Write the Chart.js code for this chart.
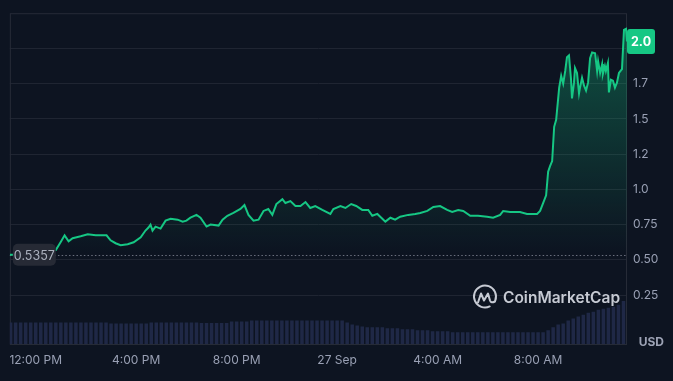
<!DOCTYPE html>
<html>
<head>
<meta charset="utf-8">
<script src="https://cdn.jsdelivr.net/npm/chart.js@4.4.1/dist/chart.umd.min.js"></script>
<style>
  html, body { margin: 0; padding: 0; background: #0d1421; }
</style>
</head>
<body>
<canvas id="priceChart" width="673" height="381"></canvas>
<script>
// hours counted from 26 Sep 00:00 (24 = 27 Sep 00:00)
const priceTimes = [
  10.97, 11.13, 12.80, 12.99, 13.15, 13.31, 13.47, 13.63, 13.79, 14.07,
  14.39, 14.82, 14.98, 15.18, 15.38, 15.66, 15.90, 16.18, 16.37, 16.49,
  16.57, 16.65, 16.77, 16.97, 17.17, 17.37, 17.65, 17.85, 18.00, 18.16,
  18.40, 18.56, 18.80, 18.96, 19.28, 19.44, 19.63, 19.87, 20.15, 20.31,
  20.47, 20.67, 20.87, 21.07, 21.26, 21.42, 21.58, 21.82, 21.94, 22.14,
  22.34, 22.54, 22.74, 22.93, 23.13, 23.41, 23.73, 23.85, 24.13, 24.33,
  24.56, 24.76, 25.00, 25.24, 25.40, 25.60, 25.80, 25.92, 26.12, 26.31,
  26.51, 26.83, 27.11, 27.31, 27.59, 27.83, 28.10, 28.38, 28.58, 28.82,
  29.02, 29.30, 29.61, 29.97, 30.21, 30.49, 30.61, 30.89, 31.28, 31.56,
  31.96, 32.08, 32.20, 32.32, 32.40, 32.48, 32.56, 32.64, 32.72, 32.84,
  32.92, 33.00, 33.08, 33.15, 33.23, 33.31, 33.35, 33.43, 33.47, 33.55,
  33.63, 33.67, 33.75, 33.83, 33.91, 33.99, 34.07, 34.15, 34.27, 34.35,
  34.39, 34.47, 34.55, 34.58, 34.66, 34.70, 34.78, 34.82, 34.90, 34.98,
  35.06, 35.14, 35.22, 35.34, 35.42, 35.50, 35.54
];
const priceValues = [
  0.5357, 0.536, 0.569, 0.625, 0.674, 0.632, 0.653, 0.660, 0.667, 0.681,
  0.674, 0.674, 0.639, 0.618, 0.604, 0.611, 0.625, 0.660, 0.708, 0.729,
  0.750, 0.708, 0.736, 0.722, 0.778, 0.792, 0.785, 0.771, 0.778, 0.799,
  0.819, 0.799, 0.736, 0.750, 0.743, 0.785, 0.813, 0.833, 0.861, 0.889,
  0.819, 0.778, 0.785, 0.847, 0.861, 0.819, 0.896, 0.931, 0.903, 0.917,
  0.882, 0.882, 0.910, 0.868, 0.882, 0.854, 0.826, 0.861, 0.882, 0.868,
  0.896, 0.882, 0.854, 0.854, 0.813, 0.826, 0.792, 0.771, 0.799, 0.785,
  0.806, 0.819, 0.826, 0.833, 0.847, 0.875, 0.882, 0.854, 0.840, 0.854,
  0.847, 0.813, 0.813, 0.806, 0.799, 0.819, 0.847, 0.840, 0.840, 0.826,
  0.826, 0.847, 0.903, 0.958, 1.125, 1.167, 1.201, 1.444, 1.493, 1.722,
  1.806, 1.750, 1.840, 1.938, 1.951, 1.785, 1.646, 1.757, 1.861, 1.826,
  1.681, 1.722, 1.792, 1.736, 1.701, 1.757, 1.931, 1.972, 1.965, 1.840,
  1.910, 1.826, 1.889, 1.819, 1.875, 1.840, 1.896, 1.688, 1.778, 1.771,
  1.722, 1.757, 1.826, 1.854, 2.132, 2.139, 2.05
];
// volume bars, one every 0.2 h from 11:00
const volumeStart = 11.0;
const volumeStep = 0.2;
const volumeValues = [
  22, 22, 22, 22, 22, 22, 22, 22, 22, 22, 22, 22, 22, 22, 22, 22, 22, 22, 22, 22,
  21, 21, 21, 21, 21, 21, 21, 21,
  22, 22, 22, 22, 22, 22, 22, 22, 22, 22,
  21.5, 21.5, 21.5, 21.5, 21.5, 21.5,
  23, 23, 23, 23,
  24, 24, 24, 24, 24, 24, 24, 24, 24, 24, 24, 24, 24, 24, 24, 24, 24, 24, 24,
  22, 20, 19, 18, 17, 17, 17, 17, 16, 16, 16, 15, 15, 15, 14, 14, 14, 13, 13, 13, 13,
  12, 12, 12, 12, 12, 12, 12, 12, 12, 12, 12, 12, 12, 12, 12, 12, 12, 12, 12,
  14, 17, 20, 21, 24, 26, 28, 30, 32, 33, 35, 36, 37, 38, 40, 44
];
const xTickHours = [12, 16, 20, 24, 28, 32];
const xTickLabels = ["12:00 PM", "4:00 PM", "8:00 PM", "27 Sep", "4:00 AM", "8:00 AM"];
const yTickValues = [0.25, 0.5, 0.75, 1.0, 1.25, 1.5, 1.75, 2.0];
const yTickLabels = ["0.25", "0.50", "0.75", "1.0", "1.2", "1.5", "1.7", "2.0"];
const openPrice = 0.5357;
const openLabel = "0.5357";
const lastLabel = "2.0";

const green = "#16c784";
const tickColor = "#99a0b4";
const gridColor = "#1f2532";

Chart.defaults.font.family = "Inter, 'Noto Sans', sans-serif";

const overlay = {
  id: "overlay",
  beforeDatasetsDraw(chart) {
    const { ctx, chartArea: a, scales } = chart;
    ctx.save();
    ctx.strokeStyle = "#262b37";
    ctx.lineWidth = 1;
    ctx.strokeRect(a.left + 0.5, a.top + 0.5, a.right - a.left - 1, a.bottom - a.top);
    const py = Math.round(scales.y.getPixelForValue(openPrice)) + 0.5;
    ctx.setLineDash([1.5, 2.2]);
    ctx.strokeStyle = "#6a6f7d";
    ctx.beginPath();
    ctx.moveTo(a.left, py);
    ctx.lineTo(a.right, py);
    ctx.stroke();
    ctx.restore();
  },
  afterDatasetsDraw(chart) {
    const { ctx, chartArea: a, scales } = chart;
    ctx.save();
    // watermark
    const cx = a.right - 142, cy = a.bottom - 47.5, r = 11;
    ctx.strokeStyle = "#c6cad3";
    ctx.lineWidth = 2;
    ctx.lineJoin = "round";
    ctx.lineCap = "round";
    ctx.beginPath();
    ctx.arc(cx, cy, r, 0.36 * Math.PI, 2.12 * Math.PI);
    ctx.stroke();
    ctx.beginPath();
    ctx.moveTo(cx - 7, cy + 6);
    ctx.lineTo(cx - 4, cy - 3);
    ctx.lineTo(cx - 1, cy + 4);
    ctx.lineTo(cx + 3, cy - 3);
    ctx.lineTo(cx + 5, cy + 4);
    ctx.quadraticCurveTo(cx + 6, cy + 7, cx + 10, cy + 5);
    ctx.stroke();
    ctx.fillStyle = "#c6cad3";
    ctx.font = "600 15.5px Inter, sans-serif";
    ctx.textAlign = "left";
    ctx.textBaseline = "middle";
    ctx.fillText("CoinMarketCap", a.right - 124, cy + 1.5);

    // open price tag
    const py = scales.y.getPixelForValue(openPrice);
    ctx.fillStyle = "#262a35";
    ctx.beginPath();
    ctx.roundRect(a.left + 3, py - 11, 43, 22, 5);
    ctx.fill();
    ctx.fillStyle = "#aab0bd";
    ctx.font = "12.5px Inter, sans-serif";
    ctx.textAlign = "center";
    ctx.fillText(openLabel, a.left + 24.5, py + 1);
    ctx.restore();
  },
  afterDraw(chart) {
    const { ctx, chartArea: a, scales } = chart;
    ctx.save();
    const last = priceValues[priceValues.length - 1];
    const ly = scales.y.getPixelForValue(last);
    ctx.fillStyle = green;
    ctx.beginPath();
    ctx.roundRect(a.right, ly - 12.5, 28, 25, 3);
    ctx.fill();
    ctx.fillStyle = "#ffffff";
    ctx.font = "bold 12.5px Inter, sans-serif";
    ctx.textAlign = "center";
    ctx.textBaseline = "middle";
    ctx.fillText(lastLabel, a.right + 14, ly + 1);

    ctx.fillStyle = "#9ca2b4";
    ctx.font = "bold 12px Inter, sans-serif";
    ctx.textAlign = "right";
    ctx.fillText("USD", chart.width - 9, a.bottom - 2);
    ctx.restore();
  }
};

new Chart(document.getElementById("priceChart"), {
  type: "line",
  data: {
    datasets: [
      {
        data: priceTimes.map((t, i) => ({ x: t, y: priceValues[i] })),
        yAxisID: "y",
        borderColor: green,
        borderWidth: 2,
        pointRadius: 0,
        tension: 0,
        order: 1,
        fill: { value: openPrice },
        backgroundColor: (c) => {
          const chart = c.chart;
          const area = chart.chartArea;
          if (!area) return "rgba(22,199,132,0.1)";
          const bottom = chart.scales.y.getPixelForValue(openPrice);
          const g = chart.ctx.createLinearGradient(0, area.top + 15, 0, bottom);
          g.addColorStop(0, "rgba(22,199,132,0.34)");
          g.addColorStop(1, "rgba(22,199,132,0.0)");
          return g;
        }
      },
      {
        type: "bar",
        data: volumeValues.map((v, i) => ({ x: volumeStart + i * volumeStep, y: v })),
        yAxisID: "yv",
        backgroundColor: "#1f2846",
        barPercentage: 0.7,
        categoryPercentage: 1,
        order: 2
      }
    ]
  },
  options: {
    responsive: false,
    animation: false,
    layout: { padding: { left: 9, top: 6, right: 0, bottom: 0 } },
    plugins: { legend: { display: false }, tooltip: { enabled: false } },
    scales: {
      x: {
        type: "linear",
        offset: false,
        min: 10.97,
        max: 35.54,
        grid: { display: false, drawTicks: false },
        border: { display: false },
        afterBuildTicks: (s) => { s.ticks = xTickHours.map(v => ({ value: v })); },
        afterFit: (s) => { s.height = 37; },
        ticks: {
          autoSkip: false,
          maxRotation: 0,
          padding: 9,
          color: tickColor,
          font: { size: 12 },
          callback: (v, i) => xTickLabels[i]
        }
      },
      y: {
        position: "right",
        min: -0.097,
        max: 2.25,
        grid: { color: gridColor, drawTicks: false },
        border: { display: false },
        afterBuildTicks: (s) => { s.ticks = yTickValues.map(v => ({ value: v })); },
        afterFit: (s) => { s.width = 46; },
        ticks: {
          padding: 6,
          color: tickColor,
          font: { size: 12 },
          callback: (v, i) => yTickLabels[i]
        }
      },
      yv: {
        display: false,
        min: 0,
        max: 338
      }
    }
  },
  plugins: [overlay]
});
</script>
</body>
</html>
